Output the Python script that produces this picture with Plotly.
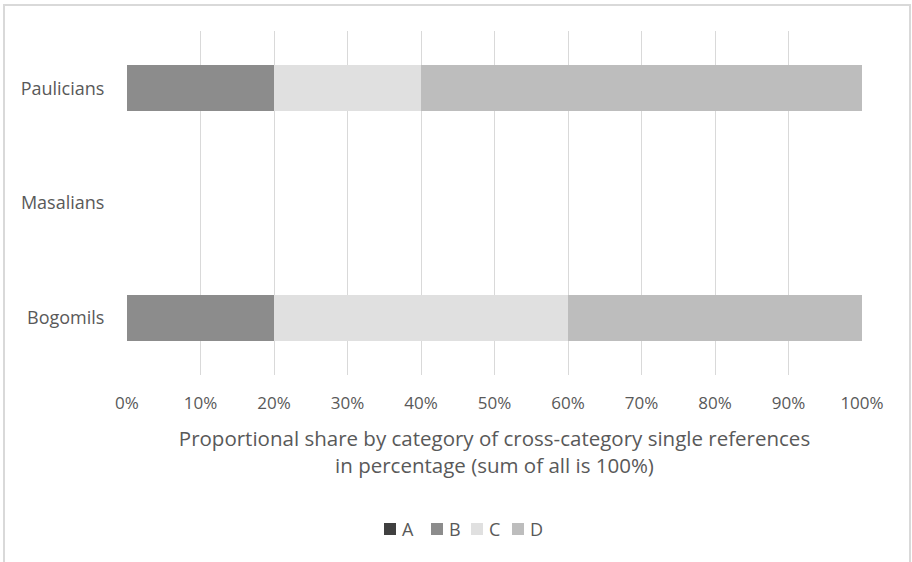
import plotly.graph_objects as go

# Groups shown on the category axis (bottom to top)
groups = ["Bogomils", "Masalians", "Paulicians"]

# Proportional share per category, in percent
share_a = [0, 0, 0]
share_b = [20, 0, 20]
share_c = [40, 0, 20]
share_d = [40, 0, 60]

series_names = ["A", "B", "C", "D"]
series_values = [share_a, share_b, share_c, share_d]
series_colors = ["#404040", "#8c8c8c", "#e0e0e0", "#bdbdbd"]

tick_vals = list(range(0, 101, 10))
tick_text = [f"{v}%" for v in tick_vals]

text_color = "#595959"
font_family = "Open Sans, Liberation Sans, sans-serif"

# Figure geometry (pixels)
W, H = 912, 562
M_L, M_R, M_T, M_B = 127, 50, 31, 187
PW, PH = W - M_L - M_R, H - M_T - M_B


def px_to_paper_x(px):
    return (px - M_L) / PW


def px_to_paper_y(py):
    return (H - M_B - py) / PH


fig = go.Figure()
for name, vals, col in zip(series_names, series_values, series_colors):
    fig.add_trace(go.Bar(
        y=groups, x=vals, name=name, orientation="h",
        marker=dict(color=col, line=dict(width=0)),
        hoverinfo="x+y+name", showlegend=False,
    ))

# Compact horizontal legend: square swatch followed by the series name
legend_left = 384
legend_row_y = 529
swatch = 12
entry_steps = [47, 40, 41]
shapes = []
annotations = []
x = legend_left
for i, (name, col) in enumerate(zip(series_names, series_colors)):
    shapes.append(dict(
        type="rect", xref="paper", yref="paper",
        x0=px_to_paper_x(x), x1=px_to_paper_x(x + swatch),
        y0=px_to_paper_y(legend_row_y + swatch / 2),
        y1=px_to_paper_y(legend_row_y - swatch / 2),
        fillcolor=col, line=dict(width=0),
    ))
    annotations.append(dict(
        text=name, xref="paper", yref="paper",
        x=px_to_paper_x(x + swatch + 4), y=px_to_paper_y(legend_row_y),
        xanchor="left", yanchor="middle", showarrow=False,
        font=dict(size=18, color=text_color),
    ))
    if i < len(entry_steps):
        x += entry_steps[i]

# Light frame around the chart area
shapes.append(dict(
    type="rect", xref="paper", yref="paper",
    x0=px_to_paper_x(4), x1=px_to_paper_x(910), y0=-1, y1=px_to_paper_y(5),
    line=dict(color="#d9d9d9", width=2), fillcolor="rgba(0,0,0,0)",
    layer="below",
))

fig.update_layout(
    width=W, height=H,
    barmode="stack", bargap=0.6,
    plot_bgcolor="white", paper_bgcolor="white",
    margin=dict(l=M_L, r=M_R, t=M_T, b=M_B),
    font=dict(family=font_family, color=text_color, size=18),
    showlegend=False,
    xaxis=dict(
        range=[0, 100], tickvals=tick_vals, ticktext=tick_text,
        showgrid=True, gridcolor="#d9d9d9", gridwidth=1,
        zeroline=False, showline=False,
        ticks="outside", ticklen=13, tickcolor="rgba(0,0,0,0)",
        tickfont=dict(size=17, color=text_color),
        title=dict(
            text="Proportional share by category of cross-category single references<br>in percentage (sum of all is 100%)",
            font=dict(size=20.5, color=text_color), standoff=18,
        ),
        fixedrange=True,
    ),
    yaxis=dict(
        showgrid=False, zeroline=False, showline=False,
        ticks="outside", ticklen=18, tickcolor="rgba(0,0,0,0)",
        tickfont=dict(size=18, color=text_color),
        fixedrange=True,
    ),
    shapes=shapes,
    annotations=annotations,
)

fig.write_html("out.html")
